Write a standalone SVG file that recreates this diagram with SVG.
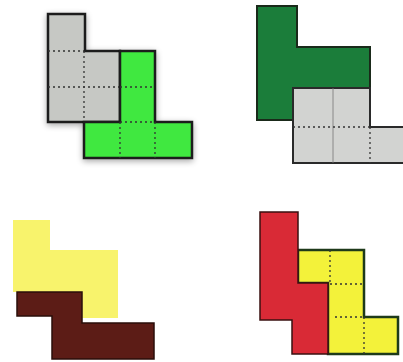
<svg xmlns="http://www.w3.org/2000/svg" width="403" height="362" viewBox="0 0 403 362">
<defs>
<filter id="sh" x="-20%" y="-20%" width="140%" height="140%">
<feGaussianBlur in="SourceAlpha" stdDeviation="3"/>
<feOffset dx="0" dy="2"/>
<feComponentTransfer><feFuncA type="linear" slope="0.35"/></feComponentTransfer>
<feMerge><feMergeNode/><feMergeNode in="SourceGraphic"/></feMerge>
</filter>
</defs>
<style>
.o{stroke:#1a1a1a;stroke-width:2.5;stroke-linejoin:miter}
.d{fill:none;stroke:#333;stroke-width:1.3;stroke-dasharray:2 3}
.g{fill:none;stroke:#777;stroke-width:0.8}
</style>
<rect width="403" height="362" fill="#ffffff"/>
<g id="q1" filter="url(#sh)">
<g id="q1-gray">
<path class="o" fill="#c6c8c4" d="M48,14 H85 V51 H120 V122 H48 Z"/>
<path class="d" d="M48,51 H84 M48,87 H120"/>
<path class="d" stroke-dasharray="1 2" d="M84,51 V122"/>
</g>
<g id="q1-green">
<path class="o" fill="#3fe83f" d="M120,51 H155 V122 H192 V158 H84 V122 H120 Z"/>
<path class="d" d="M120,87 H155 M120,122 H155 M120,122 V158 M155,122 V158"/>
</g>
</g>
<g id="q2">
<g id="q2-darkgreen">
<path fill="#1b7d3a" stroke="#1a2a1a" stroke-width="2" d="M257,6 H297 V47 H370 V88 H293 V120 H257 Z"/>
</g>
<g id="q2-gray">
<path fill="#d2d3d1" stroke="#2a2a2a" stroke-width="2" d="M403,127 H370 V88 H293 V163 H403"/>
<path class="g" d="M333,88 V163"/>
<path class="d" stroke="#888" stroke-dasharray="1 1.5" d="M293,127 H370"/>
<path class="d" stroke="#666" d="M370,127 V163"/>
</g>
</g>
<g id="q3">
<g id="q3-yellow">
<path fill="#f8f36c" d="M13,220 H50 V250 H118 V318 H82 V292 H13 Z"/>
</g>
<g id="q3-brown">
<path fill="#5c1c16" stroke="#2a0e0a" stroke-width="1.5" d="M17,292 H82 V323 H154 V359 H52 V316 H17 Z"/>
</g>
</g>
<g id="q4">
<g id="q4-yellow">
<path fill="#f3f23a" stroke="#1e3a1a" stroke-width="2.5" d="M298,250 H364 V317 H398 V354 H328 V283 H298 Z"/>
<path class="d" stroke="#8a8a10" d="M330,250 V283 M330,284 H364 M335,317 H364 M364,317 V354"/>
</g>
<g id="q4-red">
<path fill="#d92a36" stroke="#3a1010" stroke-width="1.5" d="M260,212 H298 V283 H328 V354 H292 V320 H260 Z"/>
</g>
</g>
</svg>
